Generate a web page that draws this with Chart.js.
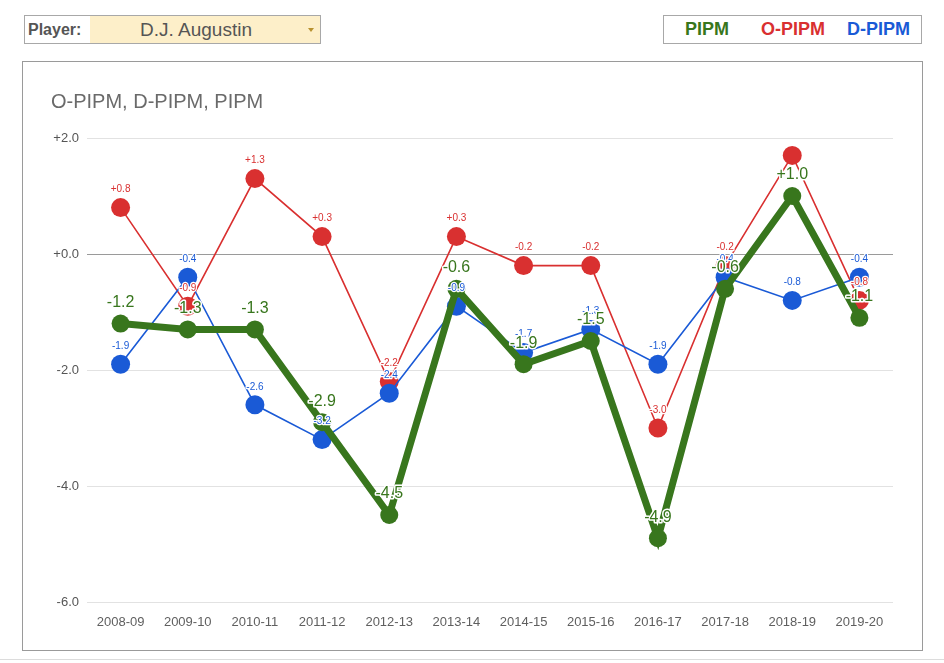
<!DOCTYPE html>
<html>
<head>
<meta charset="utf-8">
<script src="https://cdn.jsdelivr.net/npm/chart.js@4.4.1/dist/chart.umd.min.js"></script>
<style>
  body { margin: 0; background: #fff; font-family: "Liberation Sans", Arial, sans-serif; }
  #page { position: relative; width: 944px; height: 663px; overflow: hidden; }
  .box { position: absolute; border: 1px solid #a8a8a8; box-sizing: border-box; }
  #player { left: 24px; top: 15px; width: 297px; height: 29px; display: flex; }
  #player .lbl { width: 65px; font-weight: bold; font-size: 16px; color: #555; line-height: 27px; padding-left: 3px; box-sizing: border-box; }
  #player .sel { flex: 1; background: #fdefc9; font-size: 19px; color: #555; line-height: 27px; text-align: center; position: relative; padding-right: 18px; }
  #player .arr { position: absolute; right: 6px; top: 12px; width: 0; height: 0; border-left: 3px solid transparent; border-right: 3px solid transparent; border-top: 4px solid #b8912f; }
  #keys { left: 663px; top: 15px; width: 259px; height: 29px; }
  #keys span { position: absolute; top: 0; line-height: 27px; font-weight: bold; font-size: 18px; }
  #chartbox { left: 22px; top: 61px; width: 901px; height: 590px; border-color: #9a9a9a; }
  #title { position: absolute; left: 51px; top: 90px; font-size: 20px; color: #6a6a6a; }
  #wrap { position: absolute; left: 23px; top: 62px; width: 899px; height: 588px; }
  #foot { position: absolute; left: 0; right: 0; top: 659px; height: 1px; background: #dcdcdc; }
</style>
</head>
<body>
<div id="page">
  <div id="player" class="box"><div class="lbl">Player:</div><div class="sel">D.J. Augustin<div class="arr"></div></div></div>
  <div id="keys" class="box">
    <span style="left:21px;color:#38761d">PIPM</span>
    <span style="left:97px;color:#d93030">O-PIPM</span>
    <span style="left:183px;color:#1a5ad6">D-PIPM</span>
  </div>
  <div id="chartbox" class="box"></div>
  <div id="wrap"><canvas id="chart"></canvas></div>
  <div id="title">O-PIPM, D-PIPM, PIPM</div>
  <div id="foot"></div>
</div>
<script>
var seasons = ['2008-09', '2009-10', '2010-11', '2011-12', '2012-13', '2013-14', '2014-15', '2015-16', '2016-17', '2017-18', '2018-19', '2019-20']
var pipm = [-1.2, -1.3, -1.3, -2.9, -4.5, -0.6, -1.9, -1.5, -4.9, -0.6, 1.0, -1.1]
var oPipm = [0.8, -0.9, 1.3, 0.3, -2.2, 0.3, -0.2, -0.2, -3.0, -0.2, 1.7, -0.8]
var dPipm = [-1.9, -0.4, -2.6, -3.2, -2.4, -0.9, -1.7, -1.3, -1.9, -0.4, -0.8, -0.4]
var yTicks = [-6, -4, -2, 0, 2]

var GREEN = '#38761d'
var RED = '#d93030'
var BLUE = '#1a5ad6'

function fmt(v) {
    return (v >= 0 ? '+' : '') + v.toFixed(1)
}

// point annotations with a white halo, drawn above every series
// (a label that would sit above the plot area is dropped)
var pointLabels = {
    id: 'pointLabels',
    afterDatasetsDraw: function (chart) {
        var ctx = chart.ctx
        var order = [2, 1, 0]
        ctx.save()
        ctx.textAlign = 'center'
        ctx.textBaseline = 'middle'
        ctx.lineJoin = 'round'
        order.forEach(function (i) {
            var ds = chart.data.datasets[i]
            var meta = chart.getDatasetMeta(i)
            var big = i === 0
            ctx.font = (big ? '16px' : '10px') + ' "Liberation Sans", Arial, sans-serif'
            ctx.lineWidth = big ? 3 : 2.5
            meta.data.forEach(function (pt, j) {
                var txt = fmt(ds.data[j])
                var y = pt.y - (big ? 21 : 18)
                if (y < chart.chartArea.top) return
                ctx.strokeStyle = '#fff'
                ctx.strokeText(txt, pt.x, y)
                ctx.fillStyle = ds.borderColor
                ctx.fillText(txt, pt.x, y)
            })
        })
        ctx.restore()
    }
}

var chartData = {
    labels: seasons,
    datasets: [
        {
            label: 'PIPM',
            data: pipm,
            borderColor: GREEN,
            backgroundColor: GREEN,
            borderWidth: 7,
            pointRadius: 9,
            pointBorderWidth: 0,
            tension: 0
        },
        {
            label: 'D-PIPM',
            data: dPipm,
            borderColor: BLUE,
            backgroundColor: BLUE,
            borderWidth: 1.6,
            pointRadius: 9.5,
            pointBorderWidth: 0,
            tension: 0
        },
        {
            label: 'O-PIPM',
            data: oPipm,
            borderColor: RED,
            backgroundColor: RED,
            borderWidth: 1.6,
            pointRadius: 9.5,
            pointBorderWidth: 0,
            tension: 0
        }
    ]
}

var chartOptions = {
    responsive: true,
    maintainAspectRatio: false,
    animation: false,
    layout: { padding: { top: 76, right: 29, left: 0, bottom: 0 } },
    plugins: {
        legend: { display: false },
        tooltip: { enabled: false }
    },
    scales: {
        x: {
            offset: true,
            grid: { display: false },
            border: { display: false },
            ticks: { color: '#5f5f5f', font: { size: 13, family: '"Liberation Sans", Arial, sans-serif' }, padding: 5, maxRotation: 0, autoSkip: false },
            afterFit: function (scale) { scale.height = 48 }
        },
        y: {
            min: -6,
            max: 2,
            afterBuildTicks: function (scale) {
                scale.ticks = yTicks.map(function (v) { return { value: v } })
            },
            grid: {
                drawTicks: false,
                color: function (c) { return c.tick && c.tick.value === 0 ? '#9a9a9a' : '#e2e2e2' },
                lineWidth: 1
            },
            border: { display: false },
            ticks: {
                color: '#555',
                padding: 8,
                font: { size: 13, family: '"Liberation Sans", Arial, sans-serif' },
                callback: function (v) { return fmt(v) }
            },
            afterFit: function (scale) { scale.width = 64 }
        }
    }
}

var chart = new Chart(document.getElementById('chart').getContext('2d'), {
    type: 'line',
    data: chartData,
    options: chartOptions,
    plugins: [pointLabels]
})
</script>
</body>
</html>
